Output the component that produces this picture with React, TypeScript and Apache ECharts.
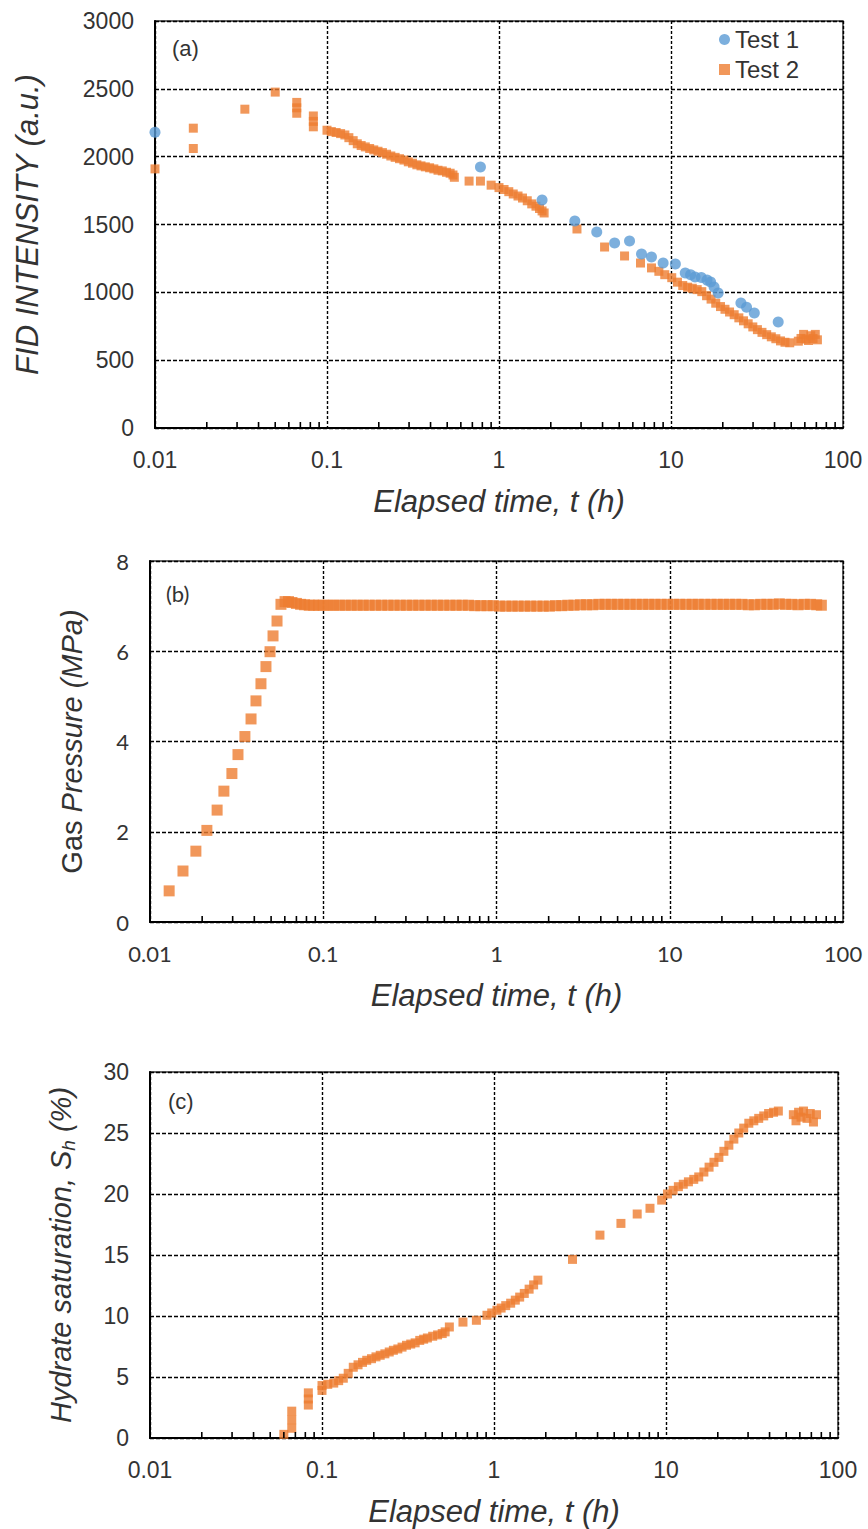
import { useEffect, useRef } from "react";
import * as echarts from "echarts";

// (a) FID intensity, Test 1
const T1_TIME = [0.01, 0.78, 1.78, 2.76, 3.7, 4.7, 5.74, 6.74, 7.7, 9.0, 10.6, 12.1, 13.0, 13.8, 15.0, 16.2, 17.0, 17.8, 18.8, 25.5, 27.5, 30.5, 42];
const T1_FID = [2180, 1924, 1680, 1526, 1445, 1364, 1378, 1283, 1260, 1216, 1209, 1143, 1130, 1113, 1110, 1090, 1076, 1040, 995, 921, 890, 848, 781];

// (a) FID intensity, Test 2
const T2_TIME = [
  0.01, 0.0167, 0.0167, 0.0333, 0.05, 0.0667, 0.0667, 0.0667, 0.0833, 0.0833, 0.0833,
  0.1, 0.106, 0.113, 0.12, 0.127, 0.134, 0.142, 0.15, 0.158, 0.167, 0.177, 0.187, 0.198,
  0.21, 0.222, 0.235, 0.249, 0.264, 0.28, 0.297, 0.314, 0.333, 0.352, 0.373, 0.395, 0.418,
  0.442, 0.468, 0.495, 0.52, 0.54, 0.55, 0.67, 0.78, 0.9, 1.0, 1.07, 1.14, 1.21, 1.29,
  1.37, 1.46, 1.55, 1.64, 1.72, 1.78, 1.83, 2.84, 4.11, 5.37, 6.65, 7.7, 8.5, 9.2, 10.1,
  10.9, 11.7, 12.5, 13.3, 14.2, 15.1, 16.1, 17.1, 18.2, 19.4, 20.6, 21.9, 23.3, 24.8, 26.4,
  28.1, 29.9, 31.8, 33.8, 36, 38.3, 40.7, 43.3, 46, 49, 55, 57, 59, 61, 63, 65, 67, 69, 71,
];
const T2_FID = [
  1910, 2210, 2060, 2350, 2476, 2400, 2360, 2320, 2300, 2260, 2220,
  2195, 2185, 2178, 2170, 2160, 2140, 2118, 2095, 2082, 2072, 2060, 2050, 2040,
  2030, 2018, 2005, 1995, 1985, 1975, 1962, 1952, 1940, 1932, 1925, 1918, 1910,
  1900, 1895, 1885, 1878, 1865, 1848, 1820, 1820, 1790, 1772, 1758, 1742, 1725, 1710,
  1695, 1675, 1652, 1635, 1618, 1600, 1585, 1467, 1334, 1268, 1216, 1180, 1155, 1130, 1108,
  1075, 1050, 1038, 1030, 1020, 1005, 975, 950, 920, 895, 875, 855, 835, 812, 790,
  768, 745, 725, 705, 688, 672, 658, 642, 632, 628, 640, 660, 690, 655, 645, 680, 660, 690, 650,
];

// (b) gas pressure, Test 2
const P_TIME = [
  0.0129, 0.0155, 0.0184, 0.0213, 0.0244, 0.0267, 0.0297, 0.0322, 0.0353, 0.0383, 0.0409,
  0.0437, 0.0467, 0.0493, 0.0513, 0.0541, 0.057, 0.0602,
  0.063, 0.066, 0.07, 0.074, 0.078, 0.083, 0.088, 0.094, 0.1, 0.107, 0.115, 0.124, 0.134,
  0.145, 0.157, 0.17, 0.184, 0.2, 0.217, 0.236, 0.256, 0.278, 0.302, 0.328, 0.356, 0.387,
  0.42, 0.456, 0.495, 0.538, 0.584, 0.634, 0.689, 0.748, 0.812, 0.882, 0.958, 1.04, 1.13,
  1.23, 1.33, 1.45, 1.57, 1.71, 1.86, 2.02, 2.19, 2.38, 2.58, 2.8, 3.05, 3.31, 3.59, 3.9,
  4.24, 4.6, 5.0, 5.43, 5.9, 6.4, 6.96, 7.56, 8.2, 8.9, 9.7, 10.5, 11.4, 12.4, 13.5, 14.6,
  15.9, 17.3, 18.8, 20.4, 22.1, 24, 26.1, 28.4, 30.8, 33.5, 36.4, 39.5, 42.9, 46.6, 50.6,
  55, 59.7, 64.9, 70.5, 75,
];
const P_MPA = [
  0.69, 1.13, 1.57, 2.03, 2.48, 2.9, 3.29, 3.71, 4.11, 4.5, 4.9,
  5.28, 5.66, 5.99, 6.34, 6.67, 7.04, 7.1,
  7.1, 7.08, 7.06, 7.04, 7.03, 7.02, 7.02, 7.02, 7.02, 7.02, 7.02, 7.02, 7.02,
  7.02, 7.02, 7.02, 7.02, 7.02, 7.02, 7.02, 7.02, 7.02, 7.02, 7.02, 7.02, 7.02,
  7.02, 7.02, 7.02, 7.02, 7.02, 7.02, 7.02, 7.01, 7.01, 7.01, 7.01, 7.0, 7.0,
  7.0, 7.0, 7.0, 7.0, 7.0, 7.0, 7.0, 7.01, 7.01, 7.02, 7.02, 7.03, 7.03, 7.03, 7.04,
  7.04, 7.04, 7.04, 7.04, 7.04, 7.04, 7.04, 7.04, 7.04, 7.04, 7.04, 7.04, 7.04, 7.04, 7.04, 7.04,
  7.04, 7.04, 7.04, 7.04, 7.04, 7.04, 7.04, 7.03, 7.03, 7.04, 7.04, 7.04, 7.05, 7.04, 7.04,
  7.03, 7.04, 7.04, 7.03, 7.02,
];

// (c) hydrate saturation, Test 2
const S_TIME = [
  0.06, 0.0667, 0.0667, 0.0667, 0.0833, 0.0833, 0.0833, 0.1, 0.1, 0.108, 0.117, 0.125, 0.133,
  0.142, 0.152, 0.162, 0.172, 0.182, 0.194, 0.206, 0.218, 0.232, 0.246, 0.26, 0.276, 0.292,
  0.31, 0.328, 0.348, 0.37, 0.39, 0.41, 0.44, 0.47, 0.5, 0.52, 0.55, 0.66, 0.79, 0.91, 0.97,
  1.04, 1.1, 1.17, 1.25, 1.33, 1.41, 1.5, 1.6, 1.7, 1.8, 2.86, 4.13, 5.47, 6.8, 8.07, 9.44,
  10.2, 11, 11.8, 12.6, 13.5, 14.5, 15.5, 16.6, 17.8, 19, 20.3, 21.7, 23.2, 24.8, 26.5, 28.3,
  30.3, 32.4, 34.6, 37, 39.5, 42.2, 45, 55, 57, 59, 61, 63, 66, 69, 72, 75,
];
const S_PCT = [
  0.3, 0.8, 1.5, 2.2, 2.7, 3.2, 3.7, 3.9, 4.3, 4.4, 4.5, 4.7, 4.9,
  5.3, 5.8, 6.0, 6.2, 6.37, 6.5, 6.65, 6.78, 6.9, 7.05, 7.19, 7.3, 7.45,
  7.6, 7.7, 7.8, 8.0, 8.1, 8.2, 8.34, 8.45, 8.56, 8.7, 9.1, 9.5, 9.65, 10.06, 10.25,
  10.47, 10.65, 10.85, 11.05, 11.3, 11.55, 11.85, 12.2, 12.55, 12.94, 14.64, 16.63, 17.59, 18.36, 18.83, 19.5,
  20.0, 20.3, 20.6, 20.8, 21.0, 21.2, 21.4, 21.8, 22.2, 22.6, 23.0, 23.5, 24.0, 24.5, 25.0, 25.4,
  25.8, 26.0, 26.2, 26.4, 26.6, 26.7, 26.8, 26.5, 26.0, 26.7, 26.3, 26.8, 26.2, 26.6, 25.9, 26.5,
];

// log-axis minor tick positions
const DECADES = [0.01, 0.1, 1, 10];
const MINOR_STEPS = [2, 3, 4, 5, 6, 7, 8, 9];

const BLUE = "#5B9BD5";
const ORANGE = "#ED7D31";
const TEXT = "#333";
const ARIAL = "Liberation Sans, Arial, sans-serif";
const CALIBRI = "Lato, sans-serif";

const pairs = (xs: number[], ys: number[]) => xs.map((x, i) => [x, ys[i]]);

const fmtTime = (v: number) => (v >= 1 ? String(Math.round(v)) : String(+v.toFixed(2)));
const fmtPlain = (v: number) => String(v);

function makeXAxis(gridIndex: number, labelFont: string, labelSize: number) {
  return {
    type: "log",
    logBase: 10,
    gridIndex,
    min: 0.01,
    max: 100,
    axisLine: { show: true, onZero: false, lineStyle: { color: "#000", width: 2 } },
    axisTick: { show: false },
    axisLabel: {
      margin: 20,
      color: TEXT,
      fontFamily: labelFont,
      fontSize: labelSize,
      formatter: fmtTime,
      showMinLabel: true,
      showMaxLabel: true,
    },
    splitLine: { show: true, lineStyle: { color: "#000", type: [3, 2], width: 1.4 } },
    name: "Elapsed time, t (h)",
    nameLocation: "middle",
    nameGap: 58,
    nameTextStyle: { fontFamily: ARIAL, fontStyle: "italic", fontSize: 31, color: TEXT },
  };
}

function makeYAxis(
  gridIndex: number,
  max: number,
  interval: number,
  labelFont: string,
  labelSize: number,
  name: string,
  nameGap: number,
  rich?: any
) {
  return {
    type: "value",
    gridIndex,
    min: 0,
    max,
    interval,
    axisLine: { show: true, lineStyle: { color: "#000", width: 2 } },
    axisTick: { show: false },
    axisLabel: { margin: 21, color: TEXT, fontFamily: labelFont, fontSize: labelSize, formatter: fmtPlain },
    splitLine: { show: true, lineStyle: { color: "#000", type: [4, 2], width: 1.4 } },
    name,
    nameLocation: "middle",
    nameGap,
    nameTextStyle: {
      fontFamily: ARIAL,
      fontStyle: "italic",
      fontSize: 31,
      color: TEXT,
      rich,
    },
  };
}

const minorTickData = DECADES.flatMap((d) => MINOR_STEPS.map((m) => [+(d * m).toPrecision(3), 0]));

function minorTicks(idx: number) {
  return {
    type: "custom",
    name: "minor-ticks-" + idx,
    xAxisIndex: idx,
    yAxisIndex: idx,
    silent: true,
    z: 5,
    data: minorTickData,
    encode: { x: 0, y: 1 },
    renderItem: (_p: any, api: any) => {
      const pt = api.coord([api.value(0), 0]);
      return {
        type: "line",
        shape: { x1: pt[0], y1: pt[1], x2: pt[0], y2: pt[1] - 6 },
        style: { stroke: "#000", lineWidth: 1.6 },
      };
    },
  };
}

const option: any = {
  animation: false,
  backgroundColor: "#fff",
  grid: [
    { left: 155, right: 25, top: 21, height: 407, show: true, borderColor: "#333", borderWidth: 1.5 },
    { left: 150, right: 25, top: 561, height: 361, show: true, borderColor: "#333", borderWidth: 1.5 },
    { left: 150, right: 30, top: 1072, height: 366, show: true, borderColor: "#333", borderWidth: 1.5 },
  ],
  xAxis: [makeXAxis(0, ARIAL, 23), makeXAxis(1, CALIBRI, 22), makeXAxis(2, ARIAL, 23)],
  yAxis: [
    makeYAxis(0, 3000, 500, ARIAL, 23, "FID INTENSITY (a.u.)", 112),
    makeYAxis(1, 8, 2, CALIBRI, 22, "{n|Gas }{i|Pressure (MPa)}", 64, {
      n: { fontFamily: ARIAL, fontStyle: "normal", fontSize: 29, color: TEXT },
      i: { fontFamily: ARIAL, fontStyle: "italic", fontSize: 29, color: TEXT },
    }),
    makeYAxis(2, 30, 5, ARIAL, 23, "{i|Hydrate saturation, S}{s|h}{i| (%)}", 72, {
      i: { fontFamily: ARIAL, fontStyle: "italic", fontSize: 29, color: TEXT, lineHeight: 34, verticalAlign: "middle" },
      s: { fontFamily: ARIAL, fontStyle: "italic", fontSize: 19, color: TEXT, lineHeight: 34, verticalAlign: "bottom" },
    }),
  ],
  legend: {
    data: [
      { name: "Test 1", icon: "circle" },
      { name: "Test 2", icon: "rect" },
    ],
    orient: "vertical",
    left: 714,
    top: 22,
    itemWidth: 11,
    itemHeight: 11,
    itemGap: 5,
    textStyle: { fontFamily: ARIAL, fontSize: 24, color: TEXT, lineHeight: 25 },
  },
  graphic: [
    { type: "text", left: 172, top: 37, style: { text: "(a)", font: `22px ${ARIAL}`, fill: TEXT } },
    { type: "text", left: 166, top: 582, style: { text: "(b)", font: `22px ${CALIBRI}`, fill: TEXT } },
    { type: "text", left: 168, top: 1090, style: { text: "(c)", font: `22px ${ARIAL}`, fill: TEXT } },
  ],
  series: [
    {
      name: "Test 2",
      type: "scatter",
      xAxisIndex: 0,
      yAxisIndex: 0,
      symbol: "rect",
      symbolSize: 9,
      itemStyle: { color: ORANGE },
      data: pairs(T2_TIME, T2_FID),
      z: 3,
    },
    {
      name: "Test 1",
      type: "scatter",
      xAxisIndex: 0,
      yAxisIndex: 0,
      symbol: "circle",
      symbolSize: 11,
      itemStyle: { color: BLUE },
      data: pairs(T1_TIME, T1_FID),
      z: 4,
    },
    {
      name: "Gas pressure",
      type: "scatter",
      xAxisIndex: 1,
      yAxisIndex: 1,
      symbol: "rect",
      symbolSize: 11,
      itemStyle: { color: ORANGE },
      data: pairs(P_TIME, P_MPA),
      z: 3,
    },
    {
      name: "Hydrate saturation",
      type: "scatter",
      xAxisIndex: 2,
      yAxisIndex: 2,
      symbol: "rect",
      symbolSize: 9,
      itemStyle: { color: ORANGE },
      data: pairs(S_TIME, S_PCT),
      z: 3,
    },
    minorTicks(0),
    minorTicks(1),
    minorTicks(2),
  ],
};

export default function App() {
  const ref = useRef<HTMLDivElement>(null);
  useEffect(() => {
    const chart = echarts.init(ref.current!, null, { renderer: "svg" });
    chart.setOption(option);
    return () => chart.dispose();
  }, []);
  return (
    <div
      ref={ref}
      style={{ position: "absolute", left: 0, top: 0, width: 868, height: 1529, background: "#fff" }}
    />
  );
}
